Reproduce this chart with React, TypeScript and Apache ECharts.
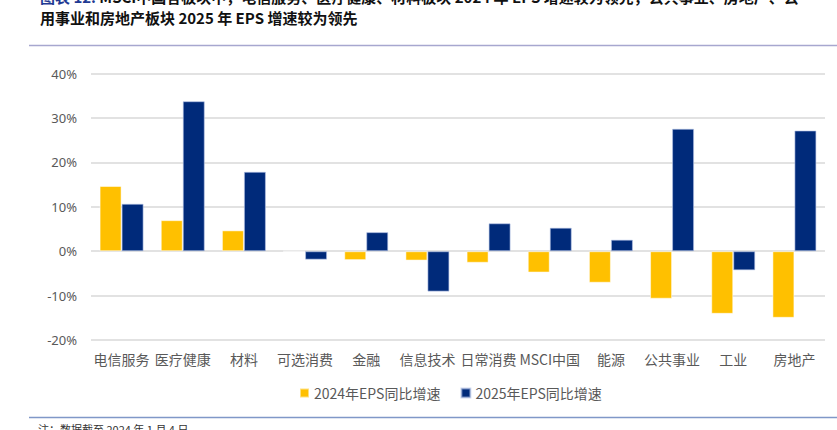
import React, { useEffect, useRef } from "react";
import * as echarts from "echarts";

const categories = ["电信服务", "医疗健康", "材料", "可选消费", "金融", "信息技术", "日常消费", "MSCI中国", "能源", "公共事业", "工业", "房地产"];
const eps2024 = [14.7, 7.0, 4.7, 0, -2.0, -2.1, -2.6, -4.8, -7.1, -10.7, -14.1, -15.0];
const eps2025 = [10.7, 33.8, 17.9, -1.9, 4.3, -9.1, 6.3, 5.3, 2.6, 27.6, -4.3, 27.2];
const seriesNames = ["2024年EPS同比增速", "2025年EPS同比增速"];
const titleLine1Head = "图表 12:";
const titleLine1Rest = " MSCI中国各板块中，电信服务、医疗健康、材料板块 2024 年 EPS 增速较为领先，公共事业、房地产、公";
const titleLine2 = "用事业和房地产板块 2025 年 EPS 增速较为领先";
const footnote = "注：数据截至 2024 年 1 月 4 日";

export default function App() {
  const ref = useRef<HTMLDivElement>(null);
  useEffect(() => {
    if (!ref.current) return;
    const chart = echarts.init(ref.current, undefined, { renderer: "svg" });
    const font = "'Noto Sans CJK SC', 'Noto Sans', sans-serif";
    chart.setOption({
      animation: false,
      backgroundColor: "#ffffff",
      grid: { left: 91, right: 12, top: 73.7, bottom: 90, containLabel: false },
      xAxis: {
        type: "category",
        data: categories,
        axisLine: { show: false },
        axisTick: { show: false },
        axisLabel: { interval: 0, color: "#595959", fontSize: 14, fontFamily: font, margin: 12 },
      },
      yAxis: {
        type: "value",
        min: -20,
        max: 40,
        interval: 10,
        axisLine: { show: false },
        axisTick: { show: false },
        splitLine: { lineStyle: { color: "#D9D9D9", width: 1.5 } },
        axisLabel: { formatter: "{value}%", color: "#595959", fontSize: 13, fontFamily: "'Noto Sans', sans-serif", margin: 14 },
      },
      legend: {
        left: 294,
        top: 381,
        itemWidth: 9,
        itemHeight: 9,
        itemGap: 20,
        icon: "rect",
        textStyle: { color: "#595959", fontSize: 14, fontFamily: font },
        data: seriesNames,
      },
      series: [
        {
          name: seriesNames[0],
          type: "bar",
          data: eps2024,
          barWidth: 22,
          barGap: "0%",
          itemStyle: { color: "#FFC000", borderColor: "rgba(255,255,255,0.5)", borderWidth: 1 },
        },
        {
          name: seriesNames[1],
          type: "bar",
          data: eps2025,
          barWidth: 22,
          barGap: "0%",
          itemStyle: { color: "#002A7A", borderColor: "rgba(180,195,230,0.6)", borderWidth: 1 },
        },
      ],
      graphic: [
        {
          type: "text",
          left: 40,
          top: -11,
          style: {
            text: "{h|" + titleLine1Head + "}{b|" + titleLine1Rest + "}",
            rich: {
              h: { fill: "#1F3A93", fontSize: 15, fontWeight: "bold", fontFamily: font },
              b: { fill: "#111111", fontSize: 15, fontWeight: "bold", fontFamily: font },
            },
          },
        },
        {
          type: "text",
          left: 40,
          top: 10,
          style: { text: titleLine2, fill: "#111111", fontSize: 15, fontWeight: "bold", fontFamily: font },
        },
        {
          type: "line",
          shape: { x1: 29, y1: 45.5, x2: 837, y2: 45.5 },
          style: { stroke: "#A7A7CF", lineWidth: 1.5 },
        },
        {
          type: "line",
          shape: { x1: 29, y1: 417.5, x2: 837, y2: 417.5 },
          style: { stroke: "#8098C8", lineWidth: 1.5 },
        },
        {
          type: "text",
          left: 38,
          top: 423,
          style: { text: footnote, fill: "#333333", fontSize: 11, fontFamily: font },
        },
      ],
    });
    return () => chart.dispose();
  }, []);
  return <div ref={ref} style={{ position: "absolute", left: 0, top: 0, width: 837, height: 430 }} />;
}
